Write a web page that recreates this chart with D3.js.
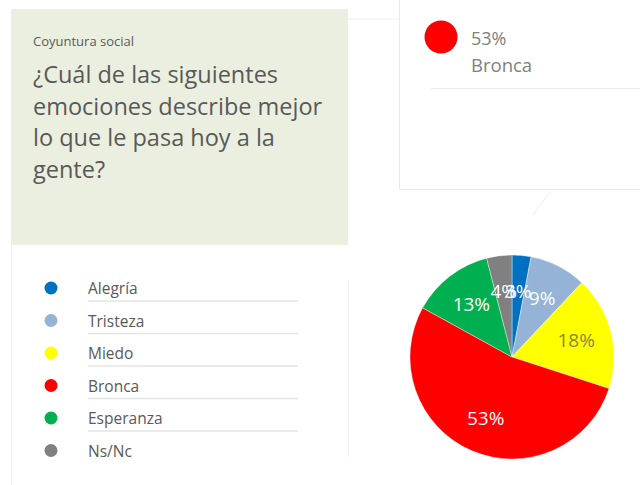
<!DOCTYPE html>
<html>
<head>
<meta charset="utf-8">
<script src="https://cdn.jsdelivr.net/npm/d3@7"></script>
<style>
  body { margin: 0; background: #ffffff; }
  svg { display: block; font-family: "Open Sans", sans-serif; }
</style>
</head>
<body>
<div id="chart"></div>
<script>
// survey data
var categories = ['Alegría', 'Tristeza', 'Miedo', 'Bronca', 'Esperanza', 'Ns/Nc'];
var values = [3, 9, 18, 53, 13, 4];
var colors = ['#0070C0', '#95B3D7', '#FFFF00', '#FF0000', '#00B050', '#808080'];
var labelColors = ['#ffffff', '#ffffff', '#8a8640', '#ffffff', '#ffffff', '#ffffff'];
var subtitle = 'Coyuntura social';
var titleLines = ['¿Cuál de las siguientes', 'emociones describe mejor', 'lo que le pasa hoy a la', 'gente?'];
var highlight = 3; // Bronca

var width = 640, height = 485;
var svg = d3.select('#chart').append('svg')
    .attr('width', width)
    .attr('height', height);

// title panel
svg.append('rect')
    .attr('x', 11).attr('y', 9)
    .attr('width', 337).attr('height', 236)
    .attr('fill', '#ebefe0');

svg.append('text')
    .attr('x', 33).attr('y', 46)
    .attr('font-size', 13)
    .attr('fill', '#5a5a5a')
    .text(subtitle);

svg.selectAll('text.title')
    .data(titleLines)
    .enter().append('text')
    .attr('class', 'title')
    .attr('x', 33)
    .attr('y', function (d, i) { return 83 + i * 31.7; })
    .attr('font-size', 23.5)
    .attr('fill', '#595959')
    .text(function (d) { return d; });

// faint panel edges
svg.append('line').attr('x1', 348).attr('x2', 400).attr('y1', 19).attr('y2', 19)
    .attr('stroke', '#eeeeee');
svg.append('line').attr('x1', 11.5).attr('x2', 11.5).attr('y1', 245).attr('y2', 485)
    .attr('stroke', '#f0f0f0');
svg.append('line').attr('x1', 348.5).attr('x2', 348.5).attr('y1', 280).attr('y2', 457)
    .attr('stroke', '#f2f2f2');

// highlight box (top right)
svg.append('line').attr('x1', 399.5).attr('x2', 399.5).attr('y1', 0).attr('y2', 189)
    .attr('stroke', '#ebebeb');
svg.append('line').attr('x1', 399.5).attr('x2', 640).attr('y1', 189.5).attr('y2', 189.5)
    .attr('stroke', '#ebebeb');
svg.append('line').attr('x1', 431).attr('x2', 640).attr('y1', 88.5).attr('y2', 88.5)
    .attr('stroke', '#ededed');
svg.append('line').attr('x1', 550).attr('x2', 533).attr('y1', 192).attr('y2', 215)
    .attr('stroke', '#eeeeee');

svg.append('circle')
    .attr('cx', 441).attr('cy', 37).attr('r', 16.5)
    .attr('fill', colors[highlight]);
svg.append('text')
    .attr('x', 471).attr('y', 45)
    .attr('font-size', 18)
    .attr('fill', '#808080')
    .text(values[highlight] + '%');
svg.append('text')
    .attr('x', 471).attr('y', 72)
    .attr('font-size', 18.5)
    .attr('fill', '#808080')
    .text(categories[highlight]);

// legend
var rowY = d3.scalePoint()
    .domain(categories)
    .range([288, 450.5]);

var legend = svg.selectAll('g.legend')
    .data(categories)
    .enter().append('g')
    .attr('class', 'legend')
    .attr('transform', function (d) { return 'translate(0,' + rowY(d) + ')'; });

legend.append('circle')
    .attr('cx', 51).attr('cy', 0).attr('r', 6.5)
    .attr('fill', function (d, i) { return colors[i]; });

legend.append('text')
    .attr('x', 88).attr('y', 6)
    .attr('font-size', 15.5)
    .attr('fill', '#595959')
    .text(function (d) { return d; });

legend.filter(function (d, i) { return i < categories.length - 1; })
    .append('line')
    .attr('x1', 88).attr('x2', 298)
    .attr('y1', 13).attr('y2', 13)
    .attr('stroke', '#e4e4e4')
    .attr('stroke-width', 1.5);

// pie
var cx = 512, cy = 357, radius = 102;
var pie = d3.pie().sort(null).value(function (d) { return d; });
var arc = d3.arc().innerRadius(0).outerRadius(radius);
var labelArc = d3.arc().innerRadius(radius * 0.65).outerRadius(radius * 0.65);

var g = svg.append('g').attr('transform', 'translate(' + cx + ',' + cy + ')');
var slices = pie(values);

g.selectAll('path')
    .data(slices)
    .enter().append('path')
    .attr('d', arc)
    .attr('fill', function (d, i) { return colors[i]; })
    .attr('stroke', '#ffffff')
    .attr('stroke-opacity', 0.5)
    .attr('stroke-width', 0.75);

g.selectAll('text')
    .data(slices)
    .enter().append('text')
    .attr('transform', function (d) { return 'translate(' + labelArc.centroid(d) + ')'; })
    .attr('text-anchor', 'middle')
    .attr('dy', '0.36em')
    .attr('font-size', 19)
    .attr('fill', function (d, i) { return labelColors[i]; })
    .text(function (d) { return d.data + '%'; });
</script>
</body>
</html>
